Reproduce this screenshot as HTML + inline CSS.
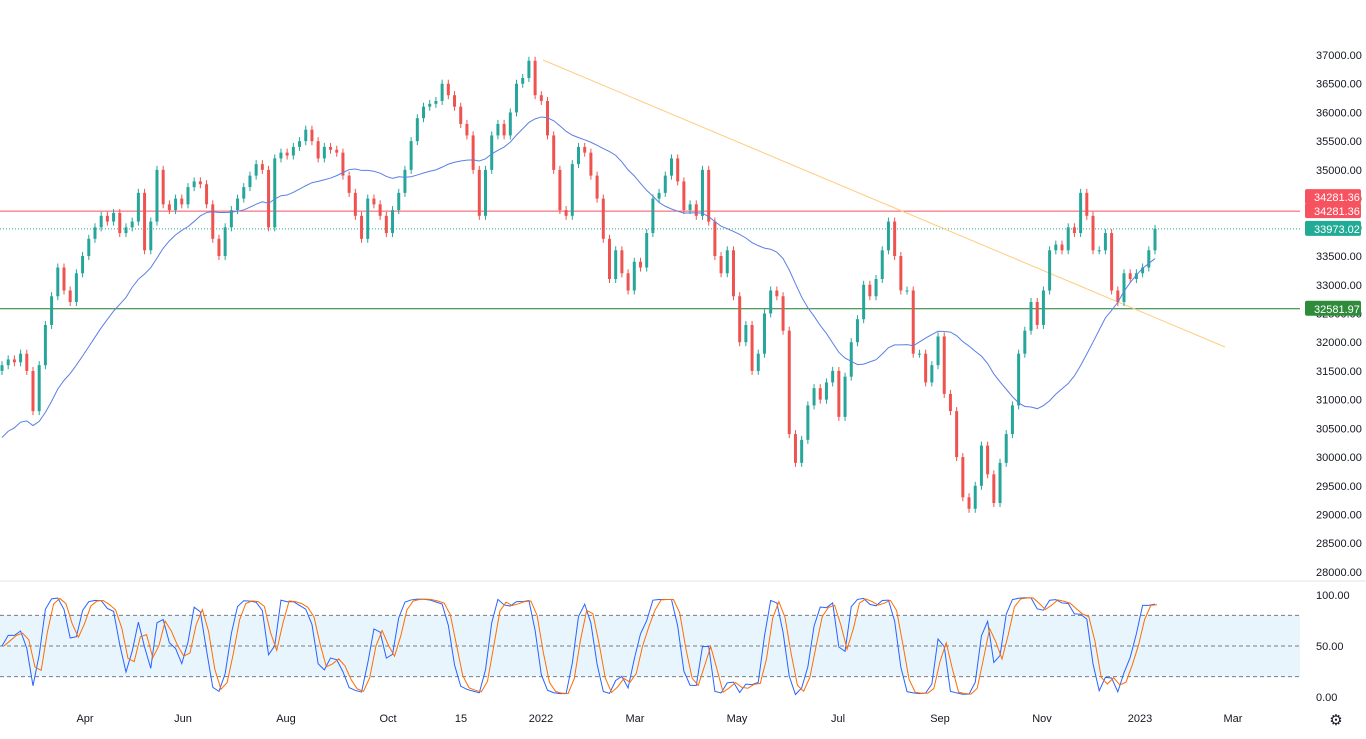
<!DOCTYPE html>
<html><head><meta charset="utf-8"><style>
body{margin:0;background:#fff;font-family:"Liberation Sans",sans-serif}
svg text{font-family:"Liberation Sans",sans-serif;font-size:11px;fill:#131722}
</style></head><body>
<svg id="c" width="1366" height="734" xmlns="http://www.w3.org/2000/svg"></svg>
<script>
const closes=[31600,31700,31650,31800,31500,30800,31600,32300,32800,33300,32900,32700,33200,33500,33800,34000,34200,34100,34250,33900,34000,34100,34600,33600,34100,35000,34400,34300,34500,34400,34700,34800,34750,34400,33800,33500,34000,34300,34500,34700,34900,35100,35000,34000,35200,35300,35250,35400,35500,35700,35500,35200,35400,35350,35300,34900,34600,34200,33800,34500,34400,34200,33900,34300,34600,35000,35500,35900,36100,36150,36200,36500,36300,36100,35800,35600,35000,34200,35000,35600,35800,35600,36000,36500,36600,36900,36300,36200,35600,35000,34300,34200,35100,35400,35300,34900,34500,33800,33100,33600,33200,32900,33400,33300,33900,34500,34600,34900,35200,34800,34300,34400,34200,35000,34100,33500,33200,33600,32800,32000,32300,31500,31800,32500,32900,32800,32200,30400,29900,30300,30900,31200,31000,31300,31500,30700,31400,32000,32400,33000,32800,33100,33600,34100,33500,32900,32900,31800,31800,31300,31600,32100,31100,30800,30000,29300,29100,29500,30200,29700,29200,29900,30400,30900,31800,32200,32700,32300,32900,33600,33700,33600,34000,33900,34600,34200,33600,33600,33900,32900,32700,33200,33100,33200,33300,33600,33973];
const priceTicks=[37000,36500,36000,35500,35000,34500,34000,33500,33000,32500,32000,31500,31000,30500,30000,29500,29000,28500,28000];
const monthLabels=["Apr","Jun","Aug","Oct","15","2022","Mar","May","Jul","Sep","Nov","2023","Mar"];
const monthX=[85,183,286,388,461,541,635,737,838,940,1042,1140,1233];
const oscTicks=[100,50,0];
const NS="http://www.w3.org/2000/svg",svg=document.getElementById('c');
function el(t,a,txt){const e=document.createElementNS(NS,t);for(const k in a)e.setAttribute(k,a[k]);if(txt!==undefined)e.textContent=txt;svg.appendChild(e);return e;}
const y=p=>55+(37000-p)/500*28.72;
const n=closes.length,x=i=>2+i*(1153/(n-1));
const oy=v=>697-v*1.02;
let b=el('rect',{x:0,y:oy(80),width:1300,height:oy(20)-oy(80),fill:'#e3f2fd',opacity:0.8});

[80,50,20].forEach(v=>{let l=el('line',{x1:0,x2:1300,y1:oy(v),y2:oy(v),stroke:'#787b86','stroke-dasharray':'4,3','stroke-width':1});
});
let sep=el('line',{x1:0,x2:1366,y1:581,y2:581,stroke:'#e0e3eb'});

let r=el('line',{x1:0,x2:1300,y1:y(34281.36),y2:y(34281.36),stroke:'#f7525f','stroke-width':1});

let d=el('line',{x1:0,x2:1300,y1:y(33973.02),y2:y(33973.02),stroke:'#22ab94','stroke-dasharray':'1,2'});

let g=el('line',{x1:0,x2:1300,y1:y(32581.97),y2:y(32581.97),stroke:'#1b7a2e','stroke-width':1});

let tl=el('line',{x1:543,y1:60,x2:1225,y2:347,stroke:'#ffcc80','stroke-width':1});

for(let i=0;i<n;i++){const o=i?closes[i-1]:closes[i]-100,c=closes[i],up=c>=o,col=up?'#26a69a':'#ef5350';
const hi=Math.max(o,c)+70,lo=Math.min(o,c)-70;
let w=el('line',{x1:x(i),x2:x(i),y1:y(hi),y2:y(lo),stroke:col});

let rc=el('rect',{x:x(i)-1.5,y:Math.min(y(o),y(c)),width:3,height:Math.max(1,Math.abs(y(o)-y(c))),fill:col});
}
let pts=[];const W=21;
for(let i=0;i<n;i++){let s=0,k=0;for(let j=Math.max(0,i-W+1);j<=i;j++){s+=closes[j];k++;}pts.push(x(i)+','+y(s/k-(i<W?(W-i)*60:0)));}
let ma=el('polyline',{points:pts.join(' '),fill:'none',stroke:'#5b7fe6','stroke-width':1});

const K=[];for(let i=0;i<n;i++){let a=Math.max(0,i-4),mx=-1e9,mn=1e9;for(let j=a;j<=i;j++){mx=Math.max(mx,closes[j]+70);mn=Math.min(mn,closes[j]-70);}K.push((closes[i]-mn)/(mx-mn)*100);}
const D=K.map((v,i)=>{let s=0,k=0;for(let j=Math.max(0,i-1);j<=i;j++){s+=K[j];k++;}return s/k;});
const D2=D.map((v,i)=>{let s=0,k=0;for(let j=Math.max(0,i-1);j<=i;j++){s+=D[j];k++;}return s/k;});
let sk=el('polyline',{points:D.map((v,i)=>x(i)+','+oy(v)).join(' '),fill:'none',stroke:'#2962ff','stroke-width':1});

let sd=el('polyline',{points:D2.map((v,i)=>(x(i)+2)+','+oy(v)).join(' '),fill:'none',stroke:'#ff6d00','stroke-width':1});

priceTicks.forEach(p=>{let t=el('text',{x:1316,y:y(p)+4},p.toFixed(2));});
oscTicks.forEach(v=>{let t=el('text',{x:1316,y:oy(v)+4},v.toFixed(2));});
monthLabels.forEach((m,i)=>{let t=el('text',{x:monthX[i],y:722,'text-anchor':'middle'},m);});
function tag(p,col,dy,name){let r=el('rect',{x:1305,y:y(p)-8+dy,width:56,height:15,rx:2,fill:col});
let t=el('text',{x:1314,y:y(p)+4+dy,style:'fill:#fff'},p.toFixed(2));}
tag(34281.36,'#f7525f',-14,'resistance-label');tag(34281.36,'#f7525f',0,'resistance-label-2');tag(33973.02,'#22ab94',0,'last-price-label');tag(32581.97,'#2e8b3a',0,'support-label');
let gear=el('text',{x:1336,y:725,'text-anchor':'middle',style:'font-size:15px'},'⚙');
</script></body></html>
